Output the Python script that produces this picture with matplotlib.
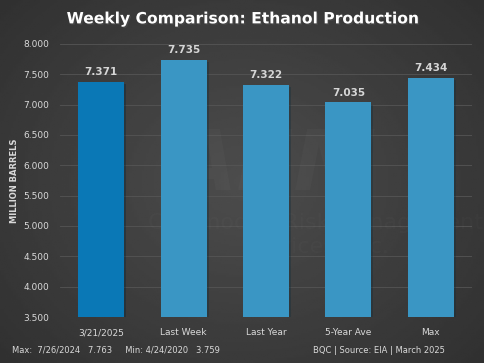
import numpy as np
import matplotlib.pyplot as plt
import matplotlib.patheffects as pe

categories = ['3/21/2025', 'Last Week', 'Last Year', '5-Year Ave', 'Max']
values = [7.371, 7.735, 7.322, 7.035, 7.434]
value_labels = ['7.371', '7.735', '7.322', '7.035', '7.434']
bar_colors = ['#0a78b6', '#3a96c4', '#3a96c4', '#3a96c4', '#3a96c4']
yticks = [3.5, 4.0, 4.5, 5.0, 5.5, 6.0, 6.5, 7.0, 7.5, 8.0]

fig = plt.figure(figsize=(4.84, 3.63), dpi=100)

# radial gradient background
bg = fig.add_axes([0, 0, 1, 1])
yy, xx = np.mgrid[-1:1:200j, -1:1:200j]
r = np.sqrt(xx ** 2 + (yy * 0.9) ** 2)
shade = 0.30 - 0.11 * np.clip(r / 1.35, 0, 1)
bg.imshow(shade, cmap='gray', vmin=0, vmax=1, extent=[0, 1, 0, 1], aspect='auto')
bg.axis('off')

ax = fig.add_axes([0.124, 0.1267, 0.851, 0.7523])
ax.patch.set_alpha(0)
x = np.arange(len(categories))

# faint watermark
ax.text(0.52, 0.55, 'AFM', transform=ax.transAxes, fontsize=60, fontweight='bold',
        color='white', alpha=0.025, ha='center', va='center', style='italic')
ax.text(0.62, 0.30, 'Commodity Risk Management\nServices, Inc.', transform=ax.transAxes,
        fontsize=16, color='white', alpha=0.02, ha='center', va='center')

ax.bar(x, [v - 3.5 for v in values], bottom=3.5, width=0.56, color=bar_colors, zorder=3,
       path_effects=[pe.SimplePatchShadow(offset=(1.5, -1.5), alpha=0.35), pe.Normal()])
for xi, v, lab in zip(x, values, value_labels):
    ax.text(xi, v + 0.08, lab, ha='center', va='bottom', fontsize=7.5,
            fontweight='bold', color='#d6d6d6')

ax.set_ylim(3.5, 8.0)
ax.set_xlim(-0.5, len(categories) - 0.5)
ax.set_yticks(yticks)
ax.set_yticklabels(['%.3f' % t for t in yticks])
ax.set_xticks(x)
ax.set_xticklabels(categories)
ax.tick_params(axis='both', length=0, colors='#d9d9d9', labelsize=6.5)
ax.tick_params(axis='y', pad=8)
ax.tick_params(axis='x', pad=8)
ax.grid(axis='y', color='#555555', linewidth=0.6, zorder=0)
for s in ax.spines.values():
    s.set_visible(False)
ax.set_ylabel('MILLION BARRELS', fontsize=6, fontweight='bold', color='#d9d9d9', labelpad=3)

fig.text(0.5, 0.948, 'Weekly Comparison: Ethanol Production', ha='center', va='center',
         fontsize=11.2, fontweight='bold', color='white',
         path_effects=[pe.withSimplePatchShadow(offset=(1, -1), alpha=0.6)])
fig.text(0.025, 0.035, 'Max:  7/26/2024   7.763     Min: 4/24/2020   3.759', ha='left',
         va='center', fontsize=6, color='#d9d9d9')
fig.text(0.92, 0.035, 'BQC | Source: EIA | March 2025', ha='right', va='center',
         fontsize=6, color='#d9d9d9')

fig.savefig('out.png', dpi=100)
